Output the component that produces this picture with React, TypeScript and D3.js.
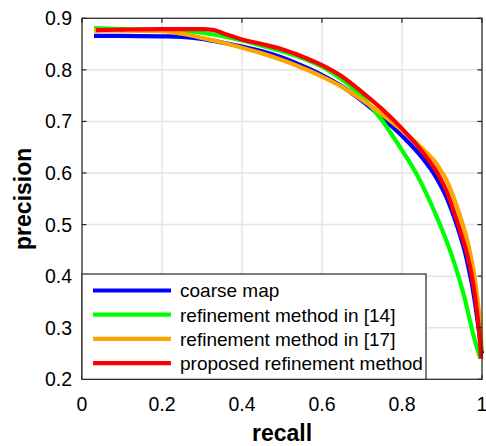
import React from "react";
import * as d3 from "d3";

const xTicks = [0, 0.2, 0.4, 0.6, 0.8, 1];
const yTicks = [0.2, 0.3, 0.4, 0.5, 0.6, 0.7, 0.8, 0.9];
const xTickLabels = ["0", "0.2", "0.4", "0.6", "0.8", "1"];
const yTickLabels = ["0.2", "0.3", "0.4", "0.5", "0.6", "0.7", "0.8", "0.9"];

const seriesNames = [
  "coarse map",
  "refinement method in [14]",
  "refinement method in [17]",
  "proposed refinement method",
];
const seriesColors = ["#0000ff", "#00ff00", "#ffa500", "#ff0000"];

const coarseRecall = [0.03, 0.1, 0.2, 0.25, 0.3, 0.35, 0.4, 0.45, 0.5, 0.55, 0.6, 0.65, 0.7, 0.75, 0.8, 0.85, 0.885, 0.91, 0.93, 0.945, 0.958, 0.968, 0.977, 0.985, 0.992, 1.0];
const coarsePrecision = [0.866, 0.866, 0.865, 0.864, 0.86, 0.853, 0.845, 0.836, 0.824, 0.808, 0.79, 0.768, 0.74, 0.708, 0.672, 0.63, 0.592, 0.555, 0.515, 0.48, 0.445, 0.41, 0.375, 0.335, 0.295, 0.25];

const ref14Recall = [0.03, 0.1, 0.2, 0.3, 0.35, 0.4, 0.45, 0.5, 0.55, 0.6, 0.65, 0.7, 0.752, 0.795, 0.835, 0.867, 0.895, 0.92, 0.941, 0.959, 0.974, 0.984, 0.996];
const ref14Precision = [0.881, 0.879, 0.877, 0.872, 0.866, 0.857, 0.847, 0.836, 0.823, 0.806, 0.781, 0.748, 0.7, 0.65, 0.6, 0.55, 0.5, 0.45, 0.4, 0.35, 0.3, 0.27, 0.24];

const ref17Recall = [0.03, 0.1, 0.2, 0.25, 0.3, 0.35, 0.4, 0.45, 0.5, 0.55, 0.6, 0.65, 0.7, 0.75, 0.8, 0.85, 0.89, 0.915, 0.935, 0.95, 0.963, 0.973, 0.981, 0.988, 0.994, 1.0];
const ref17Precision = [0.876, 0.876, 0.875, 0.87, 0.862, 0.853, 0.843, 0.832, 0.819, 0.804, 0.787, 0.767, 0.742, 0.714, 0.683, 0.648, 0.614, 0.58, 0.54, 0.505, 0.47, 0.435, 0.4, 0.36, 0.315, 0.255];

const proposedRecall = [0.035, 0.1, 0.2, 0.3, 0.33, 0.36, 0.4, 0.45, 0.5, 0.55, 0.6, 0.65, 0.7, 0.75, 0.8, 0.85, 0.89, 0.915, 0.935, 0.95, 0.962, 0.972, 0.98, 0.987, 0.993, 0.998];
const proposedPrecision = [0.877, 0.878, 0.879, 0.879, 0.877, 0.869, 0.859, 0.85, 0.84, 0.826, 0.809, 0.787, 0.757, 0.724, 0.686, 0.642, 0.598, 0.558, 0.513, 0.477, 0.445, 0.41, 0.375, 0.335, 0.29, 0.24];

const seriesRecall = [coarseRecall, ref14Recall, ref17Recall, proposedRecall];
const seriesPrecision = [coarsePrecision, ref14Precision, ref17Precision, proposedPrecision];

const W = 486;
const H = 446;
const left = 82;
const right = 482;
const top = 18.3;
const bottom = 379.3;
const FONT = "'Liberation Sans', Arial, Helvetica, sans-serif";
const AX = "#262626";

export default function App() {
  const x = d3.scaleLinear().domain([0, 1]).range([left, right]);
  const y = d3.scaleLinear().domain([0.2, 0.9]).range([bottom, top]);

  const line = d3
    .line<[number, number]>()
    .x((d) => x(d[0]))
    .y((d) => y(d[1]))
    .curve(d3.curveMonotoneX);

  const legendTop = 274;
  const legendRight = 426;
  const rowY = (i: number) => 290.5 + i * 24.2;

  return (
    <svg
      width={W}
      height={H}
      style={{ position: "absolute", left: 0, top: 0, background: "#fff" }}
      fontFamily={FONT}
    >
      <rect x={0} y={0} width={W} height={H} fill="#fff" />
      {xTicks.map((t, i) => (
        <line key={"gx" + i} x1={x(t)} x2={x(t)} y1={top} y2={bottom} stroke="#e4e4e4" strokeWidth={1.5} />
      ))}
      {yTicks.map((t, i) => (
        <line key={"gy" + i} x1={left} x2={right} y1={y(t)} y2={y(t)} stroke="#e4e4e4" strokeWidth={1.5} />
      ))}
      {seriesRecall.map((rs, si) => (
        <path
          key={"s" + si}
          d={line(rs.map((r, j) => [r, seriesPrecision[si][j]] as [number, number])) || ""}
          fill="none"
          stroke={seriesColors[si]}
          strokeWidth={4.2}
          strokeLinejoin="round"
        />
      ))}
      <rect x={left} y={top} width={right - left} height={bottom - top} fill="none" stroke={AX} strokeWidth={1.2} />
      {xTicks.map((t, i) => (
        <g key={"tx" + i}>
          <line x1={x(t)} x2={x(t)} y1={bottom} y2={bottom - 4.5} stroke={AX} strokeWidth={1.2} />
          <line x1={x(t)} x2={x(t)} y1={top} y2={top + 4.5} stroke={AX} strokeWidth={1.2} />
          <text x={x(t)} y={411} textAnchor="middle" fontSize={19.5} fill="#000">
            {xTickLabels[i]}
          </text>
        </g>
      ))}
      {yTicks.map((t, i) => (
        <g key={"ty" + i}>
          <line x1={left} x2={left + 4.5} y1={y(t)} y2={y(t)} stroke={AX} strokeWidth={1.2} />
          <line x1={right} x2={right - 4.5} y1={y(t)} y2={y(t)} stroke={AX} strokeWidth={1.2} />
          <text x={72} y={y(t) + 7} textAnchor="end" fontSize={19.5} fill="#000">
            {yTickLabels[i]}
          </text>
        </g>
      ))}
      <rect
        x={left}
        y={legendTop}
        width={legendRight - left}
        height={bottom - legendTop}
        fill="#fff"
        stroke={AX}
        strokeWidth={1.2}
      />
      {seriesNames.map((n, i) => (
        <g key={"lg" + i}>
          <line x1={93} x2={171} y1={rowY(i)} y2={rowY(i)} stroke={seriesColors[i]} strokeWidth={4.2} />
          <text x={180} y={rowY(i) + 6.8} fontSize={19} fill="#000">
            {n}
          </text>
        </g>
      ))}
      <text x={(left + right) / 2} y={441} textAnchor="middle" fontSize={23} fontWeight="bold" fill="#000">
        recall
      </text>
      <text
        transform={`translate(30.5, ${(top + bottom) / 2}) rotate(-90)`}
        textAnchor="middle"
        fontSize={23}
        fontWeight="bold"
        fill="#000"
      >
        precision
      </text>
    </svg>
  );
}
